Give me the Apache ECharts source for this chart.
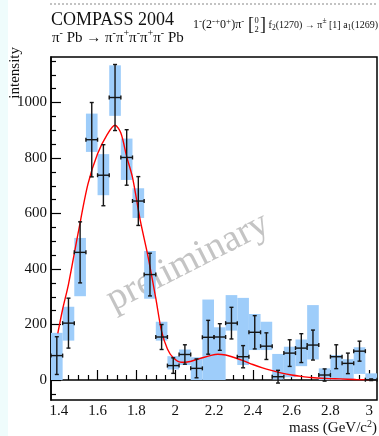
<!DOCTYPE html>
<html>
<head>
<meta charset="utf-8">
<script src="https://cdn.jsdelivr.net/npm/echarts@6/dist/echarts.min.js"></script>
<style>
  html, body { margin: 0; padding: 0; background: #fff; }
  #chart { width: 379px; height: 436px; }
</style>
</head>
<body>
<div id="chart"></div>
<script>
// bin centres in GeV/c^2 (bins are 0.06 wide)
const massBins = [1.39, 1.45, 1.51, 1.57, 1.63, 1.69, 1.75, 1.81, 1.87, 1.93, 1.99, 2.05, 2.11, 2.17,
  2.23, 2.29, 2.35, 2.41, 2.47, 2.53, 2.59, 2.65, 2.71, 2.77, 2.83, 2.89, 2.95, 3.01];
const intensity = [88, 205, 460, 866, 738, 1018, 802, 645, 380, 155, 52, 92, 42, 154,
  155, 205, 84, 172, 122, 12, 97, 115, 126, 18, 84, 60, 104, 1];
const statErr = [68, 90, 110, 134, 110, 119, 100, 88, 77, 45, 28, 35, 34, 61,
  48, 57, 40, 60, 48, 23, 48, 52, 54, 22, 43, 37, 36, 3];
// systematic band (blue boxes)
const sysLow = [0, 142, 302, 822, 666, 952, 721, 584, 293, 142, 38, 54, 0, 0,
  0, 178, 54, 108, 108, 2, 10, 50, 74, 0, 0, 0, 22, 0];
const sysHigh = [170, 264, 512, 960, 814, 1134, 870, 691, 465, 210, 86, 110, 82, 290,
  190, 306, 296, 238, 210, 94, 120, 146, 270, 42, 90, 75, 118, 24];

// fit curve
const fitMass = [1.395, 1.42, 1.45, 1.50, 1.55, 1.60, 1.65, 1.69, 1.72, 1.75, 1.78, 1.82, 1.86, 1.90,
  1.93, 1.96, 1.99, 2.03, 2.07, 2.13, 2.18, 2.22, 2.26, 2.30, 2.35, 2.40, 2.45, 2.50, 2.55, 2.60,
  2.65, 2.70, 2.77, 2.85, 2.93, 3.02];
const fitValue = [168, 255, 345, 530, 705, 815, 885, 918, 890, 805, 730, 575, 445, 295,
  175, 112, 80, 64, 66, 78, 88, 93, 90, 82, 70, 56, 44, 34, 25, 18,
  13, 9, 6, 4, 2, 1];

const massTicks = [1.4, 1.6, 1.8, 2.0, 2.2, 2.4, 2.6, 2.8, 3.0];
const intensityTicks = [0, 200, 400, 600, 800, 1000];

const BIN_WIDTH = 0.06;
const SERIF = "'Liberation Serif', 'DejaVu Serif', serif";

// minor ticks every 0.05 / 50
const massMinor = [];
for (let k = 0; k < 40; k++) {
  const v = Math.round((1.35 + 0.05 * k) * 100) / 100;
  if (v > 1.36 && v < 3.04 && massTicks.indexOf(v) < 0) massMinor.push(v);
}
const intensityMinor = [];
for (let v = -50; v <= 1150; v += 50) {
  if (v % 200 !== 0) intensityMinor.push(v);
}

function renderBox(params, api) {
  const m = api.value(0);
  const a = api.coord([m - BIN_WIDTH / 2, api.value(2)]);
  const b = api.coord([m + BIN_WIDTH / 2, api.value(1)]);
  return {
    type: "rect",
    shape: { x: a[0], y: a[1], width: b[0] - a[0], height: b[1] - a[1] },
    style: { fill: "#9ecdfa" },
  };
}

function renderCross(params, api) {
  const m = api.value(0);
  const v = api.value(1);
  const e = api.value(2);
  const l = api.coord([m - BIN_WIDTH / 2, v]);
  const r = api.coord([m + BIN_WIDTH / 2, v]);
  const t = api.coord([m, v + e]);
  const b = api.coord([m, v - e]);
  const style = { stroke: "#151515", lineWidth: 1.4 };
  const c = 2;
  const seg = (x1, y1, x2, y2) => ({ type: "line", shape: { x1, y1, x2, y2 }, style });
  return {
    type: "group",
    children: [
      seg(l[0], l[1], r[0], r[1]),
      seg(t[0], t[1], b[0], b[1]),
      seg(l[0], l[1] - c, l[0], l[1] + c),
      seg(r[0], r[1] - c, r[0], r[1] + c),
      seg(t[0] - c, t[1], t[0] + c, t[1]),
      seg(b[0] - c, b[1], b[0] + c, b[1]),
    ],
  };
}

const chart = echarts.init(document.getElementById("chart"));
const tickLine = { color: "#000", width: 1.2 };
const plain = (v) => String(v);

chart.setOption({
  animation: false,
  backgroundColor: "#fff",
  grid: { left: 51, top: 57, right: 2, bottom: 36, show: true, borderColor: "#000", borderWidth: 1.5 },
  xAxis: [
    {
      type: "value", min: 1.36, max: 3.04, position: "bottom",
      axisLine: { show: true, lineStyle: { color: "#000", width: 1.5 } },
      axisTick: { show: true, inside: true, length: 10, customValues: massTicks, lineStyle: tickLine },
      axisLabel: { customValues: massTicks, formatter: plain, color: "#111", fontSize: 15, fontFamily: SERIF, margin: 4 },
      splitLine: { show: false },
    },
    {
      type: "value", min: 1.36, max: 3.04, position: "bottom",
      axisLine: { show: false },
      axisTick: { show: true, inside: true, length: 5, customValues: massMinor, lineStyle: tickLine },
      axisLabel: { show: false },
      splitLine: { show: false },
    },
  ],
  yAxis: [
    {
      type: "value", min: -72, max: 1164, position: "left",
      axisLine: { show: true, lineStyle: { color: "#000", width: 1.5 } },
      axisTick: { show: true, inside: true, length: 10, customValues: intensityTicks, lineStyle: tickLine },
      axisLabel: { customValues: intensityTicks, formatter: plain, color: "#111", fontSize: 15, fontFamily: SERIF, margin: 4 },
      splitLine: { show: false },
    },
    {
      type: "value", min: -72, max: 1164, position: "left",
      axisLine: { show: false },
      axisTick: { show: true, inside: true, length: 5, customValues: intensityMinor, lineStyle: tickLine },
      axisLabel: { show: false },
      splitLine: { show: false },
    },
  ],
  series: [
    {
      name: "systematics",
      type: "custom",
      renderItem: renderBox,
      data: massBins.map((m, i) => [m, sysLow[i], sysHigh[i]]),
      z: 2,
    },
    {
      name: "fit",
      type: "line",
      data: fitMass.map((m, i) => [m, fitValue[i]]),
      showSymbol: false,
      smooth: 0.3,
      lineStyle: { color: "#f00", width: 1.4 },
      z: 3,
    },
    {
      name: "intensity",
      type: "custom",
      renderItem: renderCross,
      data: massBins.map((m, i) => [m, intensity[i], statErr[i]]),
      z: 4,
    },
  ],
  graphic: [
    { type: "rect", left: 0, top: 0, shape: { width: 8, height: 436 }, style: { fill: "#effcfc" }, z: 0 },
    {
      type: "line", shape: { x1: 50, y1: 4, x2: 377, y2: 4 },
      style: { stroke: "#888", lineWidth: 1, lineDash: [2, 2] }, z: 0,
    },
    {
      type: "text", x: 188, y: 262, rotation: 0.47, z: 1,
      style: { text: "preliminary", fontSize: 38, fontFamily: SERIF, fill: "#c4c4c4", align: "center", verticalAlign: "middle" },
    },
    {
      type: "text", x: 51, y: 20, z: 10,
      style: { text: "COMPASS 2004", fontSize: 18, fontFamily: SERIF, fill: "#111", verticalAlign: "middle" },
    },
    {
      type: "text", x: 52, y: 38, z: 10,
      style: {
        text: "π{s|-} Pb → π{s|-}π{s|+}π{s|-}π{s|+}π{s|-} Pb",
        fontSize: 15, lineHeight: 19, fontFamily: SERIF, fill: "#111", verticalAlign: "middle",
        rich: { s: { fontSize: 10, lineHeight: 10, verticalAlign: "top", fontFamily: SERIF, fill: "#111" } },
      },
    },
    {
      type: "text", x: 193, y: 25, z: 10,
      style: {
        text: "1{s|-}(2{s|-+}0{s|+})π{s|-}",
        fontSize: 12, lineHeight: 16, fontFamily: SERIF, fill: "#111", verticalAlign: "middle",
        rich: { s: { fontSize: 9, lineHeight: 9, verticalAlign: "top", fontFamily: SERIF, fill: "#111" } },
      },
    },
    { type: "text", x: 248, y: 25, z: 10, style: { text: "[", fontSize: 18, fontFamily: SERIF, fill: "#111", verticalAlign: "middle" } },
    { type: "text", x: 256.5, y: 20.5, z: 10, style: { text: "0", fontSize: 8.5, fontFamily: SERIF, fill: "#111", align: "center", verticalAlign: "middle" } },
    { type: "text", x: 256.5, y: 30, z: 10, style: { text: "2", fontSize: 8.5, fontFamily: SERIF, fill: "#111", align: "center", verticalAlign: "middle" } },
    { type: "text", x: 260, y: 25, z: 10, style: { text: "]", fontSize: 18, fontFamily: SERIF, fill: "#111", verticalAlign: "middle" } },
    {
      type: "text", x: 378, y: 25, z: 10,
      style: {
        text: "f{b|2}(1270) → π{s|±} [1] a{b|1}(1269)",
        fontSize: 10, lineHeight: 15, fontFamily: SERIF, fill: "#111", align: "right", verticalAlign: "middle",
        rich: {
          s: { fontSize: 7.5, lineHeight: 8, verticalAlign: "top", fontFamily: SERIF, fill: "#111" },
          b: { fontSize: 7.5, lineHeight: 8, verticalAlign: "bottom", fontFamily: SERIF, fill: "#111" },
        },
      },
    },
    {
      type: "text", x: 15, y: 47, rotation: Math.PI / 2, z: 10,
      style: { text: "intensity", fontSize: 15, fontFamily: SERIF, fill: "#111", align: "right", verticalAlign: "middle" },
    },
    {
      type: "text", x: 377, y: 428, z: 10,
      style: {
        text: "mass (GeV/c{s|2})",
        fontSize: 15, lineHeight: 18, fontFamily: SERIF, fill: "#111", align: "right", verticalAlign: "middle",
        rich: { s: { fontSize: 10, lineHeight: 10, verticalAlign: "top", fontFamily: SERIF, fill: "#111" } },
      },
    },
  ],
});
</script>
</body>
</html>
